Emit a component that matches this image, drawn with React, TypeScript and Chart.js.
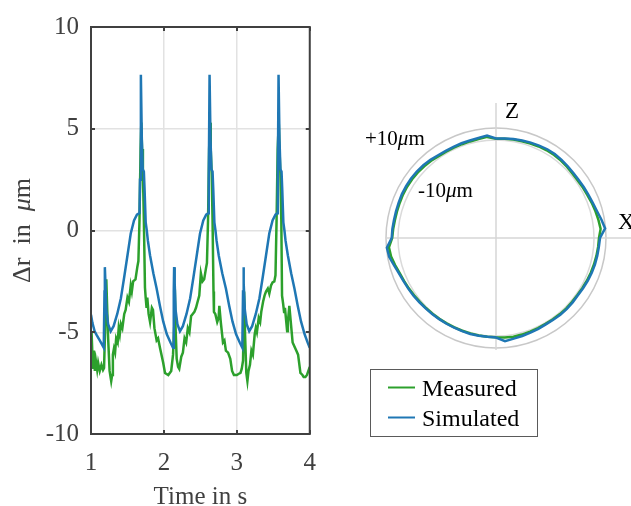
import React, { useEffect, useRef } from 'react';
import { Chart, registerables } from 'chart.js';

Chart.register(...registerables);

// ---------- Time signal (left panel) ----------
const simTime = [
  1.0, 1.02, 1.05, 1.08, 1.12, 1.15, 1.175, 1.185, 1.19, 1.198, 1.21, 1.235, 1.27, 1.31, 1.36, 1.41, 1.455, 1.5,
  1.545, 1.59, 1.63, 1.665, 1.672, 1.684, 1.697, 1.71, 1.725, 1.735, 1.75, 1.765, 1.78, 1.81, 1.855, 1.9, 1.945,
  1.99, 2.04, 2.09, 2.125,
  2.135, 2.14, 2.148, 2.16, 2.185, 2.22, 2.26, 2.31, 2.36, 2.405, 2.45, 2.495, 2.54, 2.58, 2.608, 2.615, 2.626,
  2.639, 2.652, 2.667, 2.677, 2.692, 2.707, 2.722, 2.752, 2.8, 2.85, 2.895, 2.94, 2.99, 3.04, 3.075,
  3.085, 3.09, 3.098, 3.11, 3.135, 3.17, 3.21, 3.26, 3.31, 3.355, 3.4, 3.445, 3.49, 3.53, 3.555, 3.562, 3.572,
  3.585, 3.598, 3.613, 3.623, 3.638, 3.653, 3.668, 3.7, 3.745, 3.79, 3.835, 3.88, 3.93, 3.97, 4.0,
];
const simValues = [
  -4.14, -4.55, -4.95, -5.15, -5.4, -5.6, -5.76, -3.0, -1.8, -2.6, -3.9, -4.6, -4.95, -4.7, -4.1, -3.33, -2.3, -1.23,
  -0.15, 0.5, 0.78, 0.85, 2.5, 7.65, 4.5, 3.0, 2.9, 2.0, 0.4, 0.0, -0.5, -1.23, -2.1, -2.85, -3.7,
  -4.47, -5.1, -5.5, -5.76,
  -3.0, -1.8, -2.6, -3.9, -4.6, -4.95, -4.7, -4.1, -3.33, -2.3, -1.23, -0.15, 0.5, 0.78, 0.85, 2.5, 7.65,
  4.5, 3.0, 2.9, 2.0, 0.4, 0.0, -0.5, -1.23, -2.1, -2.85, -3.7, -4.47, -5.1, -5.5, -5.76,
  -3.0, -1.8, -2.6, -3.9, -4.6, -4.95, -4.7, -4.1, -3.33, -2.3, -1.23, -0.15, 0.5, 0.78, 0.85, 2.5, 7.65,
  4.5, 3.0, 2.9, 2.0, 0.4, 0.0, -0.5, -1.23, -2.1, -2.85, -3.7, -4.47, -5.1, -5.5, -5.76,
];

const measTime = [
  1.0, 1.008, 1.02, 1.031, 1.04, 1.053, 1.067, 1.085, 1.098, 1.12, 1.143, 1.165, 1.179, 1.196, 1.21, 1.22, 1.235,
  1.255, 1.277, 1.29, 1.3, 1.315, 1.33, 1.345, 1.366, 1.38, 1.395, 1.41, 1.43, 1.456, 1.475, 1.5, 1.52, 1.545,
  1.56, 1.578, 1.61, 1.635, 1.65, 1.665, 1.68, 1.69, 1.7, 1.712, 1.725, 1.74, 1.75, 1.762, 1.772, 1.79, 1.81,
  1.835, 1.85, 1.87, 1.9, 1.92, 1.948, 1.99, 2.015, 2.06, 2.1, 2.125,
  2.14, 2.15, 2.16, 2.175, 2.194, 2.21, 2.238, 2.26, 2.283, 2.305, 2.328, 2.35, 2.373, 2.395, 2.418, 2.44, 2.462,
  2.485, 2.507, 2.53, 2.552, 2.575, 2.59, 2.605, 2.62, 2.632, 2.642, 2.655, 2.667, 2.68, 2.686, 2.705, 2.731,
  2.75, 2.76, 2.78, 2.81, 2.83, 2.85, 2.88, 2.91, 2.935, 2.96, 3.0,
  3.022, 3.05, 3.067, 3.085, 3.1, 3.112, 3.13, 3.145, 3.16, 3.18, 3.2, 3.22, 3.245, 3.26, 3.275, 3.3, 3.32, 3.335,
  3.36, 3.38, 3.4, 3.425, 3.445, 3.469, 3.49, 3.514, 3.53, 3.545, 3.56, 3.575, 3.585, 3.597, 3.61, 3.62, 3.635,
  3.648, 3.66, 3.69, 3.7, 3.72, 3.74, 3.765, 3.79, 3.815, 3.84, 3.872, 3.9, 3.917, 3.94, 3.962, 4.0,
];
const measValues = [
  -4.95, -5.0, -6.2, -6.75, -5.9, -6.9, -6.4, -6.85, -6.5, -6.9, -6.6, -6.85, -6.75, -4.5, -2.4, -3.6, -5.3,
  -6.9, -7.4, -7.1, -6.1, -5.8, -6.0, -5.3, -5.5, -4.8, -5.1, -4.6, -4.8, -4.1, -3.9, -3.3, -3.5, -2.7,
  -3.0, -2.5, -2.4, -1.8, -1.5, 0.5, 4.0, 5.3, 4.0, 2.8, 0.5, -2.8, -3.3, -3.8, -3.3, -4.1, -4.5,
  -3.8, -3.9, -4.8, -5.4, -5.3, -5.8, -6.5, -7.0, -7.1, -6.9, -6.1,
  -4.8, -2.9, -4.8, -6.3, -6.7, -6.8, -6.2, -6.0, -5.3, -5.5, -4.8, -5.0, -4.2, -4.1, -4.0, -3.8, -3.5,
  -3.2, -2.1, -2.5, -2.4, -1.9, -1.6, 0.5, 4.0, 5.3, 4.0, 2.8, 0.5, -3.0, -4.0, -4.1, -4.5,
  -4.3, -3.7, -4.5, -5.5, -5.4, -5.9, -6.0, -6.3, -6.9, -7.1, -7.1,
  -7.05, -7.0, -6.8, -6.4, -3.0, -5.0, -7.0, -7.4, -6.9, -6.6, -5.9, -6.1, -5.1, -4.8, -5.0, -4.3, -4.5, -4.0,
  -3.5, -3.2, -3.0, -2.85, -3.1, -2.7, -2.55, -2.5, -2.2, 0.5, 4.0, 5.3, 4.0, 2.8, 0.5, -3.2, -3.6,
  -4.0, -3.8, -4.95, -4.5, -3.7, -4.5, -5.5, -5.7, -5.9, -6.1, -7.0, -7.1, -7.2, -7.2, -7.1, -6.7,
];

const xTickLabels = ['1', '2', '3', '4'];
const yTickLabels = ['-10', '-5', '0', '5', '10'];

// ---------- Polar deviation (right panel), angle CCW from X, values in µm ----------
const polarAngles = [
  0, 5, 10, 15, 20, 25, 30, 35, 40, 45, 50, 55, 60, 65, 70, 75, 80, 85, 90, 95, 100, 105, 110, 115,
  120, 125, 130, 135, 140, 145, 150, 155, 160, 165, 170, 175, 180, 185, 190, 195, 200, 205, 210, 215,
  220, 225, 230, 235, 240, 245, 250, 255, 260, 265, 270, 275, 280, 285, 290, 295, 300, 305, 310, 315,
  320, 325, 330, 335, 340, 345, 350, 355,
];
const polarSimulated = [
  0, 9.2, 5.0, 0.8, -1.7, -3.3, -4.2, -5.0, -5.0, -4.2, -3.3, -2.5, -2.5, -3.3, -4.2, -5.0, -5.8, -6.7, -7.5, -2.0,
  -4.2, -5.0, -5.3, -5.7, -5.8, -5.0, -3.3, -2.0, -1.0, -0.5, -0.3, -0.3, -0.7, -0.8, -0.7, 0, 0.5, 9.2, 7.5, 2.5,
  -1.2, -3.3, -4.5, -5.5, -6.7, -7.5, -7.8, -8.2, -8.3, -8.3, -8.2, -7.8, -7.8, -8.0, -7.5, -0.8, -3.0, -4.3, -5.5,
  -6.3, -7.2, -7.0, -6.5, -6.3, -6.5, -6.7, -5.8, -4.7, -3.5, -2.7, -2.0, -1.3,
];
const polarMeasured = [
  -1.7, 1.7, 0, -1.7, -3.3, -5.0, -5.8, -6.7, -6.7, -5.8, -5.0, -4.5, -4.5, -5.0, -5.8, -6.3, -6.7, -7.3, -7.8, -4.2,
  -5.8, -6.7, -7.0, -7.3, -7.3, -6.7, -5.3, -4.2, -3.3, -2.7, -2.3, -2.3, -2.5, -2.5, -2.2, -1.3, -0.3, 5.8, 4.2, 0.8,
  -2.5, -4.2, -5.5, -6.7, -7.7, -8.3, -8.7, -8.8, -9.0, -9.0, -8.8, -8.7, -8.5, -8.3, -7.8, -6.7, -6.3, -6.7, -7.3,
  -7.8, -8.2, -8.0, -7.7, -7.5, -7.7, -7.7, -7.0, -6.0, -5.0, -4.2, -3.3, -2.5,
];
const polarRingValues = [-10, 10];
const polarRingLabels = ['+10', '-10'];
const seriesNames = ['Measured', 'Simulated'];

const GREEN = '#2ca02c';
const BLUE = '#1f77b4';
const AXIS = '#404040';
const SERIF = '"Liberation Serif", "Times New Roman", serif';

type Part = [string, boolean];
function drawRich(ctx: CanvasRenderingContext2D, parts: Part[], x: number, y: number, size: number, align: 'left' | 'center') {
  const fonts = parts.map(([, it]) => `${it ? 'italic ' : ''}${size}px ${SERIF}`);
  let total = 0;
  const widths = parts.map(([t], i) => {
    ctx.font = fonts[i];
    const w = ctx.measureText(t).width;
    total += w;
    return w;
  });
  let cx = align === 'center' ? x - total / 2 : x;
  parts.forEach(([t], i) => {
    ctx.font = fonts[i];
    ctx.textAlign = 'left';
    ctx.fillText(t, cx, y);
    cx += widths[i];
  });
}

const boxPlugin = {
  id: 'matlabBox',
  afterDraw(chart: any) {
    const { ctx, chartArea } = chart;
    const { left, right, top, bottom } = chartArea;
    const xs = chart.scales.x;
    const ys = chart.scales.y;
    ctx.save();
    ctx.strokeStyle = AXIS;
    ctx.lineWidth = 2;
    ctx.strokeRect(left, top, right - left, bottom - top);
    ctx.beginPath();
    xs.ticks.forEach((t: any) => {
      const p = Math.round(xs.getPixelForValue(t.value));
      ctx.moveTo(p, bottom);
      ctx.lineTo(p, bottom - 4);
      ctx.moveTo(p, top);
      ctx.lineTo(p, top + 4);
    });
    ys.ticks.forEach((t: any) => {
      const p = Math.round(ys.getPixelForValue(t.value));
      ctx.moveTo(left, p);
      ctx.lineTo(left + 4, p);
      ctx.moveTo(right, p);
      ctx.lineTo(right - 4, p);
    });
    ctx.stroke();

    ctx.fillStyle = AXIS;
    ctx.textBaseline = 'alphabetic';
    drawRich(ctx, [['Time in s', false]], (left + right) / 2, bottom + 70, 25, 'center');

    ctx.translate(30, (top + bottom) / 2);
    ctx.rotate(-Math.PI / 2);
    drawRich(ctx, [['\u0394r  in  ', false], ['\u03bc', true], ['m', false]], 0, 0, 26, 'center');
    ctx.restore();
  },
};

const polarPlugin = {
  id: 'polarDecor',
  beforeDatasetsDraw(chart: any) {
    const r = chart.scales.r;
    const { ctx } = chart;
    const cx = r.xCenter;
    const cy = r.yCenter;
    const R = r.drawingArea;
    ctx.save();
    ctx.strokeStyle = '#d6d6d6';
    ctx.lineWidth = 1.5;
    ctx.beginPath();
    ctx.moveTo(cx - R, cy);
    ctx.lineTo(cx + R + 26, cy);
    ctx.moveTo(cx, cy + R + 2);
    ctx.lineTo(cx, cy - R - 25);
    ctx.stroke();
    ctx.restore();
  },
  afterDraw(chart: any) {
    const r = chart.scales.r;
    const { ctx } = chart;
    const cx = r.xCenter;
    const cy = r.yCenter;
    ctx.save();
    ctx.fillStyle = '#000';
    ctx.textBaseline = 'alphabetic';
    drawRich(ctx, [['Z', false]], cx + 9, cy - 120, 23, 'left');
    drawRich(ctx, [['X', false]], cx + 122, cy - 9, 23, 'left');
    drawRich(ctx, [[polarRingLabels[0], false], ['\u03bc', true], ['m', false]], cx - 131, cy - 93, 21, 'left');
    drawRich(ctx, [[polarRingLabels[1], false], ['\u03bc', true], ['m', false]], cx - 78, cy - 41, 21, 'left');

    // legend
    const lx = cx - 126;
    const ly = cy + 131;
    ctx.strokeStyle = '#5a5a5a';
    ctx.lineWidth = 1;
    ctx.fillStyle = '#fff';
    ctx.fillRect(lx, ly, 167, 67);
    ctx.strokeRect(lx + 0.5, ly + 0.5, 167, 67);
    chart.data.datasets.forEach((ds: any, i: number) => {
      const yy = ly + 18.5 + i * 30;
      ctx.strokeStyle = ds.borderColor;
      ctx.lineWidth = 2;
      ctx.beginPath();
      ctx.moveTo(lx + 18, yy);
      ctx.lineTo(lx + 45, yy);
      ctx.stroke();
      ctx.fillStyle = '#000';
      drawRich(ctx, [[ds.label, false]], lx + 52, yy + 8, 24, 'left');
    });
    ctx.restore();
  },
};

function toClockwise(values: number[]) {
  return values.map((_, i) => values[(values.length - i) % values.length]);
}

export default function App() {
  const leftRef = useRef<HTMLCanvasElement>(null);
  const rightRef = useRef<HTMLCanvasElement>(null);

  useEffect(() => {
    const left = new Chart(leftRef.current!, {
      type: 'line',
      data: {
        datasets: [
          {
            label: seriesNames[0],
            data: measTime.map((t, i) => ({ x: t, y: measValues[i] })),
            borderColor: GREEN,
            borderWidth: 2.5,
            pointRadius: 0,
            tension: 0,
            order: 2,
          },
          {
            label: seriesNames[1],
            data: simTime.map((t, i) => ({ x: t, y: simValues[i] })),
            borderColor: BLUE,
            borderWidth: 2.5,
            pointRadius: 0,
            tension: 0,
            order: 1,
          },
        ],
      },
      options: {
        animation: false,
        responsive: false,
        maintainAspectRatio: false,
        layout: { padding: { left: 0, right: 16, top: 22, bottom: 0 } },
        plugins: { legend: { display: false }, tooltip: { enabled: false } },
        scales: {
          x: {
            type: 'linear',
            min: 1,
            max: 4,
            afterFit: (s: any) => { s.height = 72; },
            ticks: {
              stepSize: 1,
              padding: 14,
              color: AXIS,
              font: { family: SERIF, size: 25 },
              callback: (_v: any, i: number) => xTickLabels[i],
              maxRotation: 0,
            },
            grid: { color: '#e2e2e2', lineWidth: 1.5, drawTicks: false },
            border: { display: false },
          },
          y: {
            type: 'linear',
            min: -10,
            max: 10,
            afterFit: (s: any) => { s.width = 91; },
            ticks: {
              stepSize: 5,
              padding: 12,
              color: AXIS,
              font: { family: SERIF, size: 25 },
              callback: (_v: any, i: number) => yTickLabels[i],
            },
            grid: { color: '#e2e2e2', lineWidth: 1.5, drawTicks: false },
            border: { display: false },
          },
        },
      },
      plugins: [boxPlugin],
    } as any);

    const RMAX = 10;
    const RMIN = RMAX - 110 / 0.6;
    const right = new Chart(rightRef.current!, {
      type: 'radar',
      data: {
        labels: toClockwise(polarAngles).map((a) => String(a)),
        datasets: [
          {
            label: seriesNames[0],
            data: toClockwise(polarMeasured),
            borderColor: GREEN,
            borderWidth: 2.5,
            pointRadius: 0,
            fill: false,
            order: 2,
          },
          {
            label: seriesNames[1],
            data: toClockwise(polarSimulated),
            borderColor: BLUE,
            borderWidth: 2.5,
            pointRadius: 0,
            fill: false,
            order: 1,
          },
        ],
      },
      options: {
        animation: false,
        responsive: false,
        maintainAspectRatio: false,
        layout: { padding: { left: 46, top: 38, right: 25, bottom: 102 } },
        plugins: { legend: { display: false }, tooltip: { enabled: false } },
        elements: { line: { tension: 0 } },
        scales: {
          r: {
            min: RMIN,
            max: RMAX,
            startAngle: 90,
            afterBuildTicks: (s: any) => {
              s.ticks = [{ value: RMIN }, ...polarRingValues.map((v) => ({ value: v }))];
            },
            ticks: { display: false },
            grid: {
              circular: true,
              lineWidth: 1.5,
              color: (c: any) =>
                c.tick && c.tick.value === RMAX ? '#c8c8c8' : c.tick && c.tick.value === -10 ? '#dadada' : 'rgba(0,0,0,0)',
            },
            angleLines: { display: false },
            pointLabels: { display: false },
          },
        },
      },
      plugins: [polarPlugin],
    } as any);

    return () => {
      left.destroy();
      right.destroy();
    };
  }, []);

  return (
    <div style={{ position: 'absolute', left: 0, top: 0, width: 631, height: 506, background: '#fff' }}>
      <canvas ref={leftRef} width={330} height={506} style={{ position: 'absolute', left: 0, top: 0, width: 330, height: 506 }} />
      <canvas ref={rightRef} width={291} height={360} style={{ position: 'absolute', left: 340, top: 90, width: 291, height: 360 }} />
    </div>
  );
}
